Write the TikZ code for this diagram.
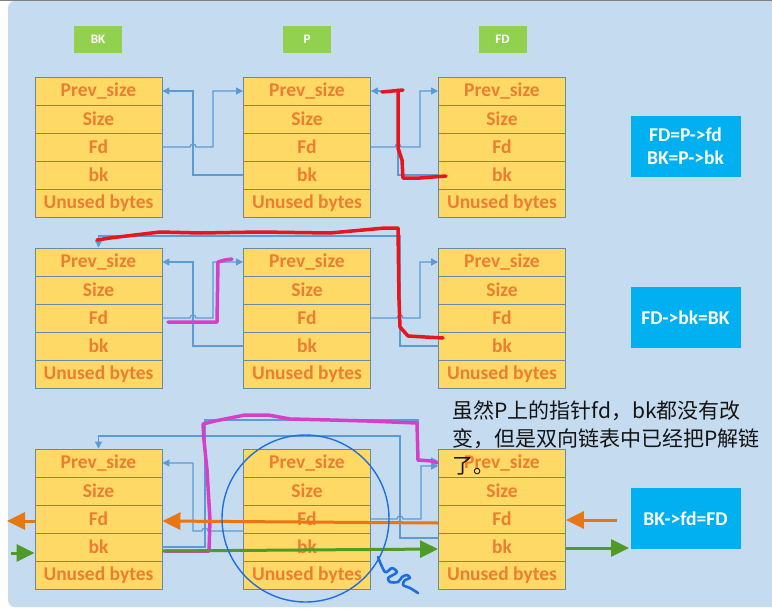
\documentclass[tikz,border=0pt]{standalone}
\usepackage{fontspec}
\setmainfont{Carlito}
\newfontfamily\cjk{Noto Sans CJK SC}
\usetikzlibrary{arrows.meta}
\definecolor{panel}{RGB}{197,219,239}
\definecolor{cellfill}{RGB}{255,217,102}
\definecolor{cellborder}{RGB}{105,138,165}
\definecolor{celltext}{RGB}{237,125,49}
\definecolor{labgreen}{RGB}{146,208,80}
\definecolor{infoblue}{RGB}{0,176,240}
\definecolor{linkblue}{RGB}{91,155,213}
\definecolor{penred}{RGB}{232,20,30}
\definecolor{penmag}{RGB}{214,64,200}
\definecolor{arrorange}{RGB}{232,118,18}
\definecolor{arrgreen}{RGB}{80,155,40}
\definecolor{circblue}{RGB}{30,110,225}
\definecolor{txtblack}{RGB}{20,20,20}
\tikzset{
  cell/.style={draw=cellborder, line width=0.9pt, fill=cellfill, minimum width=127pt, minimum height=28pt, inner sep=0pt, text=celltext, font=\fontsize{19.5}{21}\selectfont\bfseries},
  lab/.style={fill=labgreen, minimum width=48pt, minimum height=27pt, inner sep=0pt, text=white, font=\fontsize{13}{15}\selectfont\bfseries},
  info/.style={fill=infoblue, minimum width=110pt, minimum height=61pt, inner sep=0pt, text=white, align=center, font=\fontsize{19.5}{23}\selectfont\bfseries},
  link/.style={draw=linkblue, line width=1.2pt, -{Triangle[length=7pt,width=7pt]}},
  pen/.style={line width=3.5pt, line cap=round, line join=round},
  bigarrow/.style={line width=3pt, -{Triangle[length=18pt,width=17pt]}},
  note/.style={anchor=base west, inner sep=0pt, text=txtblack, font=\cjk\fontsize{21}{28}\selectfont},
}
\newcommand\mkchunk[3]{%
  \node[cell] (#1-prev) at (#2,#3+14) {Prev\_size};
  \node[cell] (#1-size) at (#2,#3+42) {Size};
  \node[cell] (#1-fd) at (#2,#3+70) {Fd};
  \node[cell] (#1-bk) at (#2,#3+98) {bk};
  \node[cell] (#1-un) at (#2,#3+126) {Unused bytes};
}
\begin{document}
\begin{tikzpicture}[x=1pt,y=-1pt]
\useasboundingbox (0,0) rectangle (772,611);
\clip (0,0) rectangle (772,611);
\fill[white] (0,0) rectangle (772,611);
\fill[panel, rounded corners=7pt] (8,1) rectangle (790,607);
\draw[gray, line width=1pt] (0,0.5) -- (772,0.5);

% labels
\node[lab] (lbk) at (98,39) {BK};
\node[lab] (lp) at (307,39) {P};
\node[lab] (lfd) at (502.5,39) {FD};

% chunks
\mkchunk{a1}{98.5}{77}
\mkchunk{b1}{307}{77}
\mkchunk{c1}{502}{77}
\mkchunk{a2}{98.5}{248}
\mkchunk{b2}{307}{248}
\mkchunk{c2}{502}{248}
\mkchunk{a3}{98.5}{449}
\mkchunk{b3}{307}{449}
\mkchunk{c3}{502}{449}

% info boxes
\node[info] (i1) at (685.5,146.5) {FD=P->fd\\BK=P->bk};
\node[info] (i2) at (685.5,317.5) {FD->bk=BK};
\node[info] (i3) at (685.5,518.5) {BK->fd=FD};

% row 1 links
\draw[link] (a1-fd.east) -- (190,147) .. controls (190,143) and (196,143) .. (196,147) -- (213,147) |- (b1-prev.west);
\draw[link] (b1-bk.west) -- (193,175) |- (a1-prev.east);
\draw[link] (b1-fd.east) -- (395,147) .. controls (395,143) and (401,143) .. (401,147) -- (420,147) |- (c1-prev.west);
\draw[link] (c1-bk.west) -- (398,175) |- (b1-prev.east);

% row 2 links
\draw[link] (a2-fd.east) -- (190,318) .. controls (190,314) and (196,314) .. (196,318) -- (213,318) |- (b2-prev.west);
\draw[link] (b2-bk.west) -- (193,346) |- (a2-prev.east);
\draw[link] (b2-fd.east) -- (397,318) .. controls (397,314) and (403,314) .. (403,318) -- (420,318) |- (c2-prev.west);
\draw[link] (c2-bk.west) -- (400,346) -- (400,236) -| (a2-prev.north);

% row 3 links
\draw[link] ([yshift=16pt]b3-bk.west) -- (208,531) .. controls (208,527) and (202,527) .. (202,531) -- (193,531) |- (a3-prev.east);
\draw[link] (a3-bk.east) -- (205,547) -- (205,420) -- (418,420) |- ([yshift=2pt]c3-prev.west);
\draw[link] (b3-fd.east) -- (397,519) .. controls (397,515) and (403,515) .. (403,519) -- (421,519) |- ([yshift=-3pt]c3-prev.west);
\draw[link] ([yshift=9pt]c3-bk.west) -- (400,538) -- (400,436) -| (a3-prev.north);

% hand-drawn red
\draw[pen, penred] (382,92) -- (403,90);
\draw[pen, penred] (398,90) -- (398,148) -- (402,160) -- (403,178) -- (420,178) -- (446,176);
\draw[pen, penred] (97,240) -- (110,238) -- (135,235) -- (160,232) -- (200,233) -- (260,232) -- (330,233) -- (385,228) -- (398,228) -- (399,300) -- (400,327) -- (408,336) -- (425,337) -- (443,338);

% hand-drawn magenta
\draw[pen, penmag] (168,322) -- (217,322) -- (218,262) -- (225,260) -- (232,259);
\draw[pen, penmag] (165,551) -- (209,551) -- (210,520) -- (207,470) -- (204,440) -- (203,424) -- (215,421) -- (245,415) -- (268,415) -- (290,419) -- (330,420) -- (367,421) -- (417,423) -- (418,460) -- (432,461) -- (437,463);

% orange arrows
\coordinate (o1) at (617,520);
\coordinate (o2) at (7,521);
\draw[bigarrow, arrorange] ([yshift=-4pt]c3-fd.west) -- ([yshift=-2pt]a3-fd.east);
\draw[bigarrow, arrorange] (o1) -- ([yshift=-1pt]c3-fd.east);
\draw[bigarrow, arrorange] ([yshift=-2pt]a3-fd.west) -- (o2);

% green arrows
\coordinate (g1) at (11,553);
\coordinate (g2) at (629,548);
\draw[bigarrow, arrgreen] (g1) -- ([yshift=-6pt]a3-bk.west);
\draw[bigarrow, arrgreen] ([yshift=-4pt]a3-bk.east) -- ([yshift=-2pt]c3-bk.west);
\draw[bigarrow, arrgreen] ([yshift=-1pt]c3-bk.east) -- (g2);

% circle and scribble
\draw[circblue, line width=1.4pt] (305.5,518.5) circle[radius=83.5pt];
\draw[circblue, line width=2.6pt, line cap=round, line join=round] plot[smooth, tension=0.5] coordinates {(378,557) (385,572) (392,568) (397,572) (393,575) (388,578) (390,582) (398,582) (402,577) (407,575) (410,578) (405,580) (403,585) (410,588) (418,593)};

% note
\node[note] (n1) at (452,418) {虽然P上的指针fd，bk都没有改};
\node[note] (n2) at (452,446) {变，但是双向链表中已经把P解链};
\node[note] (n3) at (452,473) {了。};
\end{tikzpicture}
\end{document}
